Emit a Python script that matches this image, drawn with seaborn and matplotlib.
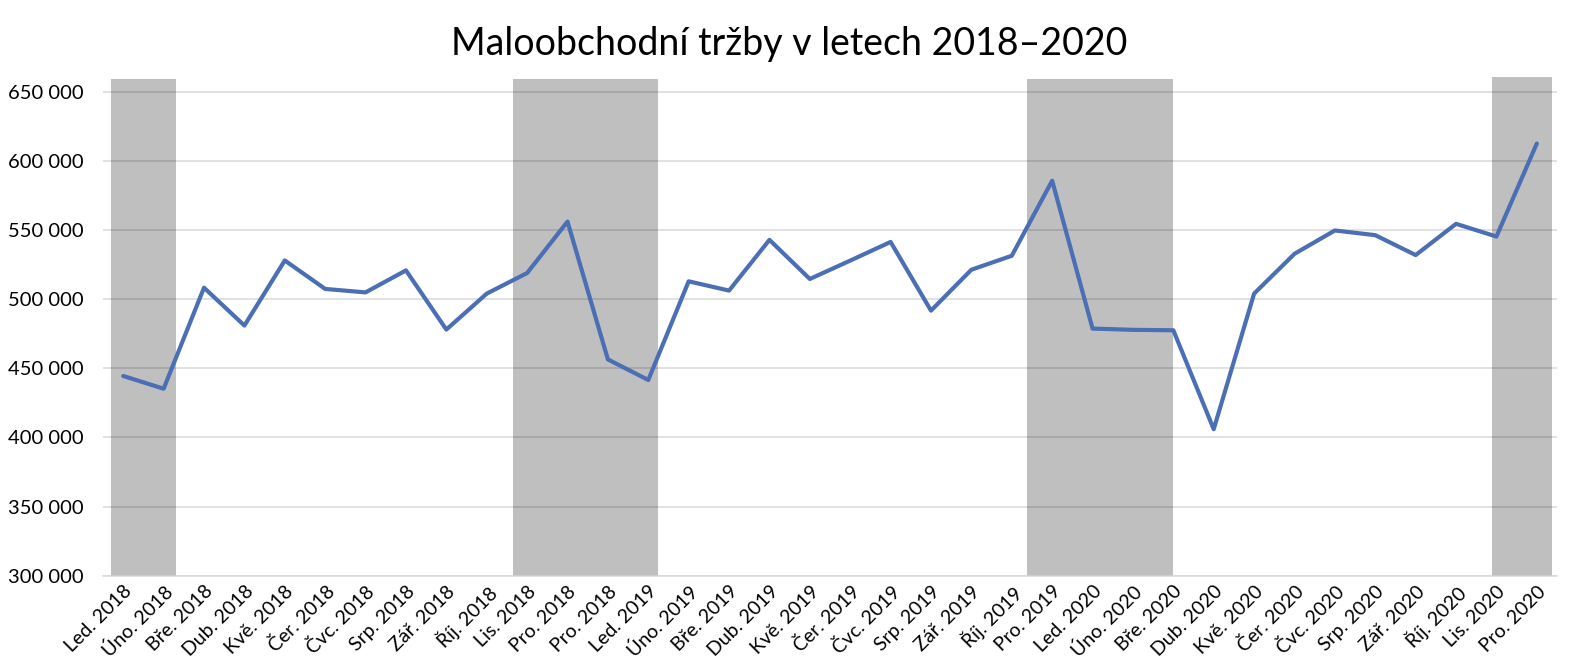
import numpy as np
import pandas as pd
import seaborn as sns
import matplotlib.pyplot as plt

months = ["Led. 2018", "Úno. 2018", "Bře. 2018", "Dub. 2018", "Kvě. 2018", "Čer. 2018",
          "Čvc. 2018", "Srp. 2018", "Zář. 2018", "Říj. 2018", "Lis. 2018", "Pro. 2018",
          "Pro. 2018", "Led. 2019", "Úno. 2019", "Bře. 2019", "Dub. 2019", "Kvě. 2019",
          "Čer. 2019", "Čvc. 2019", "Srp. 2019", "Zář. 2019", "Říj. 2019", "Pro. 2019",
          "Led. 2020", "Úno. 2020", "Bře. 2020", "Dub. 2020", "Kvě. 2020", "Čer. 2020",
          "Čvc. 2020", "Srp. 2020", "Zář. 2020", "Říj. 2020", "Lis. 2020", "Pro. 2020"]

sales = [444500, 435300, 508400, 481000, 528100, 507500,
         505000, 520900, 478100, 504100, 519000, 556200,
         456500, 441600, 513000, 506300, 543000, 514700,
         528000, 541500, 491800, 521400, 531500, 585800,
         478800, 477900, 477600, 406000, 504100, 532900,
         549800, 546400, 532000, 554600, 545400, 612700]

# shaded periods, in category units
band_start = [-0.30, 9.64, 22.37, 33.90]
band_end = [1.31, 13.25, 25.98, 35.37]
band_top = [659500, 659500, 659500, 661000]

yticks = list(range(300000, 650001, 50000))

sns.set_theme(style="white")
plt.rcParams['font.family'] = ['Lato', 'DejaVu Sans']
plt.rcParams['text.color'] = 'black'
plt.rcParams['xtick.color'] = 'black'
plt.rcParams['ytick.color'] = 'black'

fig = plt.figure(figsize=(15.78, 6.72), dpi=100)
ax = fig.add_axes([0.0653, 0.1433, 0.9214, 0.7445])

df = pd.DataFrame({"pos": np.arange(len(months)), "sales": sales})

ax.yaxis.grid(True, color="#d9d9d9", linewidth=1.1)
ax.set_axisbelow(True)

widths = [e - s for s, e in zip(band_start, band_end)]
ax.bar(band_start, band_top, width=widths, align="edge", color="black",
       alpha=0.25, linewidth=0, zorder=2)

sns.lineplot(data=df, x="pos", y="sales", ax=ax, color="#4a6fb5",
             linewidth=3.0, zorder=3)

n = len(months)
ax.set_xlim(-0.5, n - 0.5)
ax.set_ylim(300000, 662000)
ax.set_yticks(yticks)
ax.set_yticklabels([f"{v:,}".replace(",", " ") for v in yticks], fontsize=14.5)

ax.set_xticks(np.arange(n + 1) - 0.5)
ax.set_xticklabels([])
ax.set_xticks(np.arange(n), minor=True)
ax.set_xticklabels(months, minor=True, rotation=45, ha="right",
                   rotation_mode="anchor", fontsize=14)
ax.tick_params(axis="x", which="major", length=6, color="#d9d9d9", width=1.1)
ax.tick_params(axis="x", which="minor", length=0, pad=5)
ax.tick_params(axis="y", length=0, pad=14)

for s in ["top", "left", "right"]:
    ax.spines[s].set_visible(False)
ax.spines["bottom"].set_color("#d9d9d9")
ax.spines["bottom"].set_linewidth(1.1)
ax.set_xlabel("")
ax.set_ylabel("")

fig.suptitle("Maloobchodní tržby v letech 2018–2020", fontsize=27, y=0.935,
             va="center", x=0.5)

fig.savefig("out.png", dpi=100)
